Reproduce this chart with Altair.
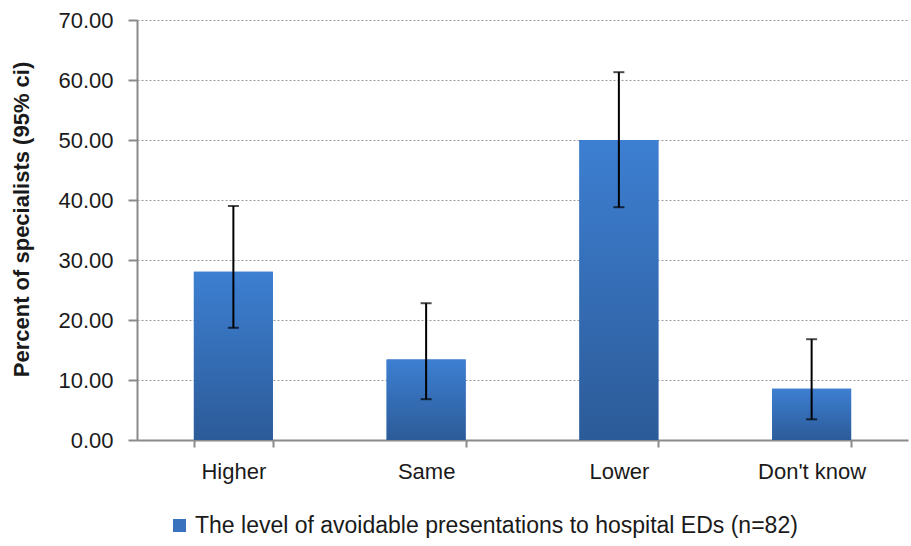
import altair as alt
import pandas as pd

# Response categories and percentages of specialists (n=82) with 95% CI bounds
categories = ["Higher", "Same", "Lower", "Don't know"]
percent = [28.05, 13.41, 50.00, 8.54]
ci_low = [18.7, 6.8, 38.8, 3.45]
ci_high = [39.0, 22.8, 61.3, 16.8]
series_name = "The level of avoidable presentations to hospital EDs (n=82)"

df = pd.DataFrame({
    "category": categories,
    "percent": percent,
    "lo": ci_low,
    "hi": ci_high,
    "series": [series_name] * len(categories),
})

FONT = "Liberation Sans, Arial, sans-serif"
AXIS_GRAY = "#8a8a8a"
TEXT = "#1a1a1a"

x_enc = alt.X(
    "category:N",
    sort=categories,
    scale=alt.Scale(paddingInner=0.59, paddingOuter=0.295),
    axis=alt.Axis(
        title=None,
        labelAngle=0,
        tickBand="extent",
        tickSize=7,
        tickWidth=2,
        tickColor=AXIS_GRAY,
        domainColor=AXIS_GRAY,
        domainWidth=2,
        labelPadding=14,
        labelFontSize=22,
        labelFont=FONT,
        labelColor=TEXT,
        grid=False,
    ),
)

y_scale = alt.Scale(domain=[0, 70], nice=False)

base = alt.Chart(df)

# solid bars carry the legend entry
bars_solid = base.mark_bar().encode(
    x=x_enc,
    y=alt.Y(
        "percent:Q",
        scale=y_scale,
        axis=alt.Axis(
            title="Percent of specialists (95% ci)",
            values=[0, 10, 20, 30, 40, 50, 60, 70],
            format=".2f",
            tickSize=9,
            tickWidth=2,
            tickColor=AXIS_GRAY,
            domainColor=AXIS_GRAY,
            domainWidth=2,
            gridColor="#9a9a9a",
            gridDash=[2, 2],
            gridWidth=1,
            labelFontSize=22,
            labelFont=FONT,
            labelColor=TEXT,
            labelPadding=15,
            titleFontSize=22,
            titleFont=FONT,
            titleFontWeight="bold",
            titleColor=TEXT,
            titlePadding=24,
            titleY=199,
        ),
    ),
    color=alt.Color(
        "series:N",
        scale=alt.Scale(range=["#3a72be"]),
        legend=alt.Legend(
            title=None,
            orient="none",
            legendX=31,
            legendY=494,
            symbolType="square",
            symbolSize=170,
            symbolStrokeWidth=0,
            labelFontSize=23,
            labelFont=FONT,
            labelColor=TEXT,
            labelLimit=800,
        ),
    ),
)

# gradient-filled bars drawn over the solid ones
bars_grad = base.mark_bar(
    color=alt.Gradient(
        gradient="linear",
        x1=0, x2=0, y1=0, y2=1,
        stops=[
            alt.GradientStop(offset=0, color="#3d7fd2"),
            alt.GradientStop(offset=1, color="#2c5b98"),
        ],
    )
).encode(x=alt.X("category:N", sort=categories), y=alt.Y("percent:Q", scale=y_scale))

err_rule = base.mark_rule(color="black", strokeWidth=2).encode(
    x=alt.X("category:N", sort=categories),
    y=alt.Y("lo:Q", scale=y_scale),
    y2="hi:Q",
)

cap_lo = base.mark_tick(color="black", thickness=2, size=11).encode(
    x=alt.X("category:N", sort=categories), y=alt.Y("lo:Q", scale=y_scale)
)
cap_hi = base.mark_tick(color="black", thickness=2, size=11).encode(
    x=alt.X("category:N", sort=categories), y=alt.Y("hi:Q", scale=y_scale)
)

chart = (
    alt.layer(bars_solid, bars_grad, err_rule, cap_lo, cap_hi)
    .properties(
        width=771,
        height=420,
        autosize=alt.AutoSizeParams(type="none"),
        padding={"left": 137, "top": 20, "right": 3, "bottom": 106},
        background="white",
    )
    .configure_view(stroke=None)
)

chart.save("out.html", embed_options={"renderer": "svg", "actions": False})
